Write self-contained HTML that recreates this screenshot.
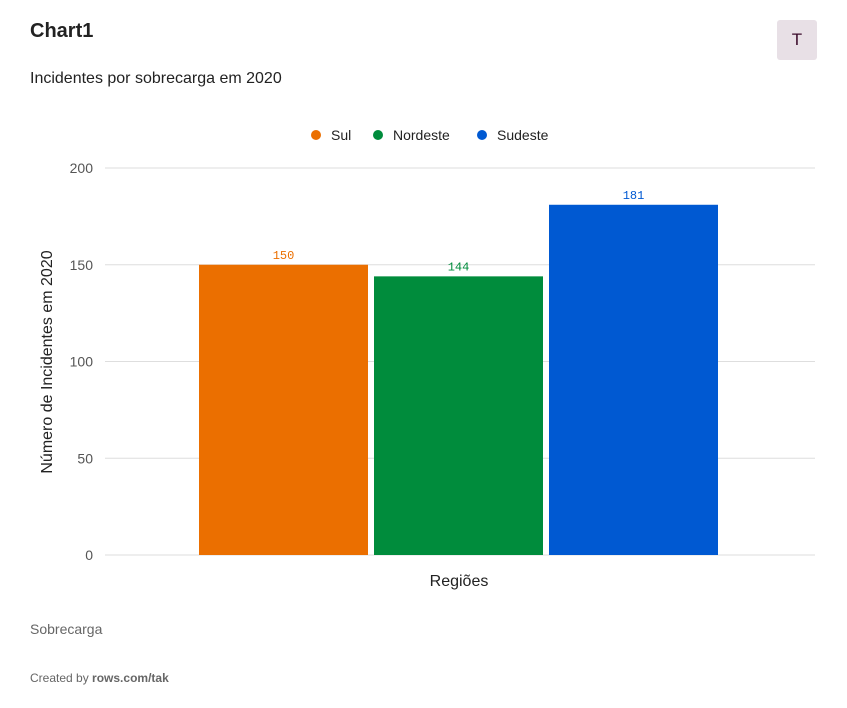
<!DOCTYPE html>
<html><head><meta charset="utf-8"><style>
body{margin:0;background:#fff;width:847px;height:708px;overflow:hidden;font-family:"Liberation Sans",sans-serif}
.t{position:absolute}
</style></head><body>
<div class="t" style="left:30px;top:20px;font-size:20px;font-weight:bold;color:#222">Chart1</div>
<div class="t" style="left:777px;top:20px;width:40px;height:40px;background:#e8e0e6;border-radius:3px;text-align:center;line-height:40px;font-size:17px;color:#3a0a2a">T</div>
<div class="t" style="left:30px;top:70px;font-size:16px;color:#222">Incidentes por sobrecarga em 2020</div>
<svg id="c" class="t" style="left:0;top:0" width="847" height="708"></svg>
<div class="t" style="left:30px;top:621px;font-size:14px;color:#666">Sobrecarga</div>
<div class="t" style="left:30px;top:671px;font-size:12px;color:#666">Created by <b>rows.com/tak</b></div>
<script>
const categories=["Sul","Nordeste","Sudeste"];
const values=[150,144,181];
const colors=["#eb6f00","#008c3c","#0059d2"];
const ticks=[0,50,100,150,200];
const svg=document.getElementById('c');const NS='http://www.w3.org/2000/svg';
function y(v){return 555-v*387/200}
function mk(t,a,txt){const e=document.createElementNS(NS,t);for(const k in a)e.setAttribute(k,a[k]);if(txt!==undefined)e.textContent=txt;svg.appendChild(e);return e}
ticks.forEach(t=>{
 const l=mk('line',{x1:105,x2:815,y1:y(t),y2:y(t),stroke:'#dedede','stroke-width':1});
 
 
 const tx=mk('text',{x:93,y:y(t)+5,'text-anchor':'end','font-size':14,fill:'#555','font-family':'Liberation Sans'},t);
 
 
});
const bw=169,gap=6,x0=199;
categories.forEach((c,i)=>{
 const x=x0+i*(bw+gap);
 const r=mk('rect',{x:x,y:y(values[i]),width:bw,height:555-y(values[i]),fill:colors[i]});
 
 
 const t=mk('text',{x:x+bw/2,y:y(values[i])-6,'text-anchor':'middle','font-size':12,fill:colors[i],'font-family':'Liberation Mono'},values[i]);
 
 
});
const lx=[316,378,482];
categories.forEach((c,i)=>{
 const d=mk('circle',{cx:lx[i],cy:135,r:5,fill:colors[i]});
 
 
 const t=mk('text',{x:lx[i]+15,y:140,'font-size':14,fill:'#222','font-family':'Liberation Sans'},c);
 
 
});
const xt=mk('text',{x:459,y:586,'text-anchor':'middle','font-size':16,fill:'#222','font-family':'Liberation Sans'},'Regiões');


const yt=mk('text',{x:0,y:0,'text-anchor':'middle','font-size':16,fill:'#222','font-family':'Liberation Sans',transform:'translate(52,362) rotate(-90)'},'Número de Incidentes em 2020');


</script>
</body></html>
